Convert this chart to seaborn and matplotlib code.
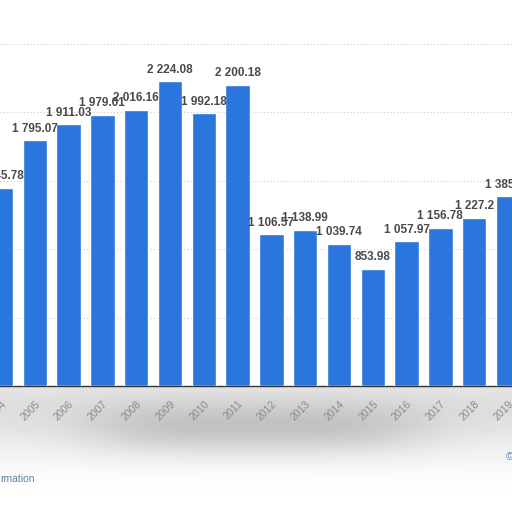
import matplotlib

matplotlib.use("Agg")

import matplotlib.pyplot as plt
import numpy as np
import pandas as pd
import seaborn as sns

years = [str(y) for y in range(2004, 2020)]
values = [1445.78, 1795.07, 1911.03, 1979.01, 2016.16, 2224.08, 1992.18, 2200.18,
          1106.57, 1138.99, 1039.74, 853.98, 1057.97, 1156.78, 1227.2, 1385.58]
value_labels = ["1 445.78", "1 795.07", "1 911.03", "1 979.01", "2 016.16", "2 224.08",
                "1 992.18", "2 200.18", "1 106.57", "1 138.99", "1 039.74", "853.98",
                "1 057.97", "1 156.78", "1 227.2", "1 385.58"]
y_ticks = [0, 500, 1000, 1500, 2000, 2500]

BAR_COLOR = "#2a76dd"

sns.set_theme(style="white")
plt.rcParams["font.family"] = ["Liberation Sans", "DejaVu Sans"]

df = pd.DataFrame({"year": years, "value": values})

fig = plt.figure(figsize=(5.12, 5.12), dpi=100)
fig.patch.set_facecolor("white")

# soft grey smudge under the axis, like the screenshot
bg = fig.add_axes([0, 0, 1, 1], zorder=-1)
gx, gy = np.meshgrid(np.linspace(0, 1, 256), np.linspace(0, 1, 256))
shade = 0.13 * np.exp(-((gy - 0.80) / 0.09) ** 2)
shade += 0.13 * np.exp(-((gx - 0.5) / 0.33) ** 4 - ((gy - 0.84) / 0.05) ** 2)
shade = np.where(gy < 0.755, 0, shade)
bg.imshow(1 - shade, cmap="gray", vmin=0, vmax=1, extent=(0, 1, 1, 0), aspect="auto")
bg.set_xlim(0, 1)
bg.set_ylim(1, 0)
bg.axis("off")

ax = fig.add_axes([0, 0.246, 1, 0.669])
ax.set_facecolor("none")
sns.barplot(data=df, x="year", y="value", color=BAR_COLOR, saturation=1,
            width=0.72, ax=ax, zorder=3)

ax.set_xlim(-0.03, 15.12)
ax.set_ylim(0, 2500)
ax.set_yticks(y_ticks)
ax.yaxis.grid(True, color="#cccccc", linestyle=(0, (1, 2)), linewidth=0.8, zorder=0)
ax.tick_params(axis="y", left=False, labelleft=False)
ax.tick_params(axis="x", bottom=False, pad=3)
for lbl in ax.get_xticklabels():
    lbl.set_rotation(45)
    lbl.set_ha("right")
    lbl.set_rotation_mode("anchor")
    lbl.set_fontsize(7.5)
    lbl.set_color("#8a8a8a")
ax.set_xlabel("")
ax.set_ylabel("")
for side in ["top", "left", "right"]:
    ax.spines[side].set_visible(False)
ax.spines["bottom"].set_color("#333333")
ax.spines["bottom"].set_linewidth(1)

ax.bar_label(ax.containers[0], labels=value_labels, padding=4, fontsize=8.5,
             fontweight="bold", color="#4a4a4a")

fig.text(0.0, 0.064, "rmation", fontsize=7.5, color="#5b82a6", ha="left", va="center")
fig.text(0.988, 0.108, "©", fontsize=7.5, color="#5b82a6", ha="left", va="center")

fig.savefig("out.png", dpi=100)
plt.close(fig)
